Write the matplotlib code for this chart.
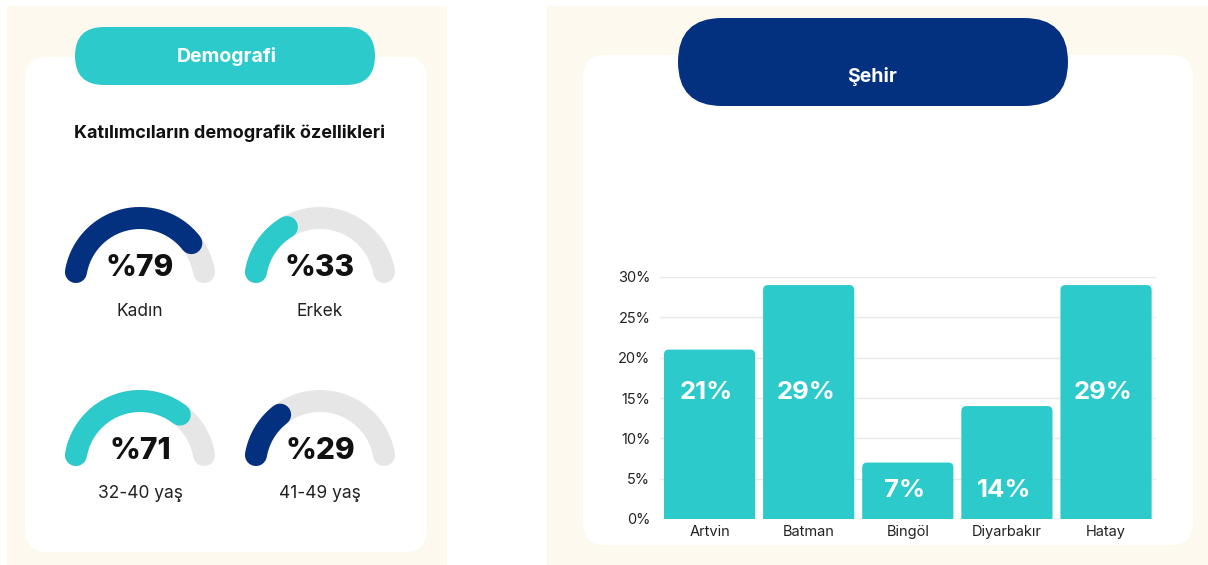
import numpy as np
import matplotlib.pyplot as plt
from matplotlib.patches import FancyBboxPatch, Rectangle

# data
gauge_labels = ["Kadın", "Erkek", "32-40 yaş", "41-49 yaş"]
gauge_values = [79, 33, 71, 29]
cities = ["Artvin", "Batman", "Bingöl", "Diyarbakır", "Hatay"]
city_shares = [21, 29, 7, 14, 29]
y_ticks = [0, 5, 10, 15, 20, 25, 30]

TEAL = "#2ccacb"
NAVY = "#04317f"
GREY = "#e6e6e6"
CREAM = "#fdf9ee"
W, H = 1208, 565

plt.rcParams["font.family"] = ["Inter", "DejaVu Sans"]

fig = plt.figure(figsize=(W / 100, H / 100), dpi=100)
fig.patch.set_facecolor("white")

# background axes in pixel coordinates (y measured from top)
bg = fig.add_axes([0, 0, 1, 1])
bg.set_xlim(0, W)
bg.set_ylim(H, 0)
bg.axis("off")


def box(x0, y0, x1, y1, color, r, z=1):
    p = FancyBboxPatch((x0 + r, y0 + r), (x1 - x0) - 2 * r, (y1 - y0) - 2 * r,
                       boxstyle=f"round,pad={r}", fc=color, ec="none", zorder=z)
    bg.add_patch(p)


# cream panels and white cards
bg.add_patch(Rectangle((7, 6), 440, 559, fc=CREAM, ec="none", zorder=0))
bg.add_patch(Rectangle((547, 6), 661, 559, fc=CREAM, ec="none", zorder=0))
box(25, 57, 427, 552, "white", 22)
box(583, 55, 1193, 545, "white", 22)

# header pills
box(75, 27, 375, 85, TEAL, 29, z=3)
bg.text(227, 57, "Demografi", color="white", fontsize=14, fontweight="bold",
        ha="center", va="center", zorder=4)
box(678, 18, 1068, 106, NAVY, 44, z=3)
bg.text(872, 77, "Şehir", color="white", fontsize=14, fontweight="bold",
        ha="center", va="center", zorder=4)

bg.text(230, 133, "Katılımcıların demografik özellikleri", fontsize=13,
        fontweight="bold", ha="center", va="center", color="#111111")

# gauges
centers = [(140, 283), (320, 283), (140, 466), (320, 466)]
gauge_colors = [NAVY, TEAL, TEAL, NAVY]
r_mid = 65
lw_px = 22
off = (lw_px / 2) / r_mid
for (cx, cy), val, lab, col in zip(centers, gauge_values, gauge_labels, gauge_colors):
    th = np.linspace(np.pi - off, off, 200)
    bg.plot(cx + r_mid * np.cos(th), cy - r_mid * np.sin(th), color=GREY,
            lw=lw_px * 0.72, solid_capstyle="round", zorder=3)
    end = max(np.pi - val / 100 * np.pi, off)
    th = np.linspace(np.pi - off, end, 200)
    bg.plot(cx + r_mid * np.cos(th), cy - r_mid * np.sin(th), color=col,
            lw=lw_px * 0.72, solid_capstyle="round", zorder=4)
    bg.text(cx, cy - 15, f"%{val}", fontsize=21.5, fontweight="heavy",
            ha="center", va="center", color="#111111", zorder=5)
    bg.text(cx, cy + 28, lab, fontsize=12.5, ha="center", va="center",
            color="#222222", zorder=5)

# bar chart
x0, x1 = 660, 1155.6
yb, yt = 519, 277
ax = fig.add_axes([x0 / W, (H - yb) / H, (x1 - x0) / W, (yb - yt) / H])
ax.set_zorder(5)
ax.patch.set_alpha(0)
ax.set_xlim(-0.5, len(cities) - 0.5)
ax.set_ylim(0, 30)

xs = np.arange(len(cities))
bars = ax.bar(xs, city_shares, width=0.92, color=TEAL, zorder=3)
px_x = (x1 - x0) / len(cities)
px_y = (yb - yt) / 30
for b in bars:
    b.set_visible(False)
    rs = 5 / px_x
    rp = FancyBboxPatch((b.get_x() + rs, -2 + rs * px_x / px_y), b.get_width() - 2 * rs,
                        b.get_height() + 2 - 2 * rs * px_x / px_y,
                        boxstyle=f"round,pad={rs}", mutation_aspect=px_x / px_y,
                        fc=TEAL, ec="none", zorder=3)
    ax.add_patch(rp)

for x, v in zip(xs, city_shares):
    ty = 15.7 if v > 18 else 3.5
    ax.text(x - 0.03, ty, f"{v}%", color="white", fontsize=18.5, fontweight="bold",
            ha="center", va="center", zorder=4)

ax.set_yticks(y_ticks)
ax.set_yticklabels([f"{t}%" for t in y_ticks], fontsize=10.5, color="#222222")
ax.set_xticks(xs)
ax.set_xticklabels(cities, fontsize=10.5, color="#222222")
ax.tick_params(length=0, pad=7)
ax.tick_params(axis="x", pad=4)
ax.grid(axis="y", color="#e8e8e8", lw=1, zorder=0)
for s in ax.spines.values():
    s.set_visible(False)

fig.savefig("out.png", dpi=100, facecolor="white")
